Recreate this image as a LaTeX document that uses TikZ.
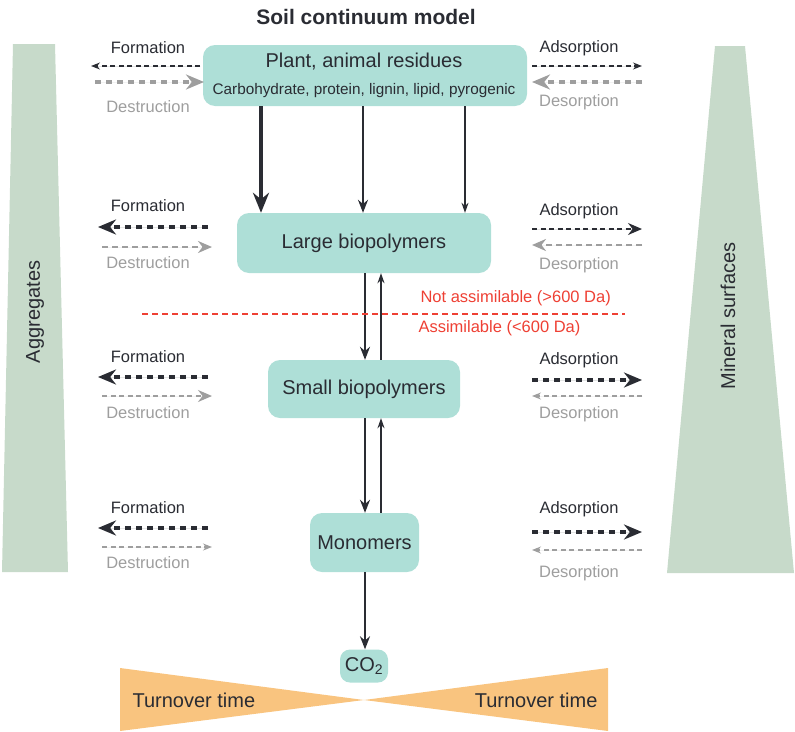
\documentclass[tikz,border=0pt]{standalone}
\usepackage{fontspec}
\setmainfont{Liberation Sans}
\usetikzlibrary{arrows.meta,positioning}

\definecolor{poolteal}{HTML}{AEDFD7}
\definecolor{sage}{HTML}{C7DACA}
\definecolor{turnover}{HTML}{F9C47F}
\definecolor{inkdark}{HTML}{2A2C33}
\definecolor{inkgrey}{HTML}{9E9E9E}
\definecolor{cutoff}{HTML}{EE4034}

\tikzset{
  pool/.style={fill=poolteal, rounded corners=12pt, inner sep=0pt,
    font=\fontsize{20}{24}\selectfont, text=inkdark},
  bigtext/.style={font=\fontsize{20}{24}\selectfont, text=inkdark},
  sidedark/.style={font=\fontsize{16.5}{20}\selectfont, text=inkdark},
  sidegrey/.style={font=\fontsize{16.5}{20}\selectfont, text=inkgrey},
  flowthin/.style={line width=1.2pt, dash pattern=on 5pt off 3.5pt,
    -{Stealth[length=9pt,width=7pt]}},
  flowmid/.style={line width=2.4pt, dash pattern=on 6pt off 4pt,
    -{Stealth[length=14pt,width=12pt]}},
  flowthick/.style={line width=4pt, dash pattern=on 6pt off 5pt,
    -{Stealth[length=18pt,width=15pt]}},
  flowthinbig/.style={line width=1.6pt, dash pattern=on 5pt off 3.5pt,
    -{Stealth[length=14pt,width=12pt]}},
  feedthick/.style={draw=inkdark, line width=4pt, -{Stealth[length=20pt,width=16pt]}},
  feedmid/.style={draw=inkdark, line width=2pt, -{Stealth[length=13pt,width=10pt]}},
  feedthin/.style={draw=inkdark, line width=1.2pt, -{Stealth[length=10pt,width=7pt]}},
}

\begin{document}
\begin{tikzpicture}[x=1pt, y=-1pt]
  \useasboundingbox (0,0) rectangle (795,731);

  % side wedges and turnover bands
  \fill[sage] (13,44) -- (55,44) -- (68,572) -- (2,572) -- cycle;
  \fill[sage] (715,46) -- (745,46) -- (794,573) -- (667,573) -- cycle;
  \fill[turnover] (120,668) -- (364,700) -- (120,731) -- cycle;
  \fill[turnover] (608,668) -- (364,700) -- (608,731) -- cycle;
  \node[bigtext, rotate=90] (aggr) at (35,312) {Aggregates};
  \node[bigtext, rotate=90] (mineral) at (728,316) {Mineral surfaces};
  \node[bigtext, anchor=west] (turnL) at (129,700) {Turnover time};
  \node[bigtext, anchor=east] (turnR) at (601,700) {Turnover time};

  \node[font=\bfseries\fontsize{21}{25}\selectfont, text=inkdark] (title) at (366,17) {Soil continuum model};

  % pools
  \node[pool, minimum width=324pt, minimum height=61pt] (plant) at (365,75.5) {};
  \node[bigtext] (plantname) at (364,62) {Plant, animal residues};
  \node[font=\fontsize{15.3}{18}\selectfont, text=inkdark] (plantlist) at (364,91)
    {Carbohydrate, protein, lignin, lipid, pyrogenic};
  \node[pool, minimum width=254pt, minimum height=60pt] (large) at (364,243) {Large biopolymers};
  \node[pool, minimum width=192pt, minimum height=58pt] (small) at (364,389) {Small biopolymers};
  \node[pool, minimum width=109pt, minimum height=59pt] (mono) at (364.5,542.5) {Monomers};
  \node[pool, rounded corners=10pt, minimum width=48pt, minimum height=33pt] (co2) at (364,666)
    {CO\textsubscript{2}};

  % vertical fluxes
  \draw[feedthick] (plant.south -| 261,0) -- (large.north -| 261,0);
  \draw[feedmid] (plant.south -| 363,0) -- (large.north -| 363,0);
  \draw[feedthin] (plant.south -| 465,0) -- (large.north -| 465,0);
  \draw[feedmid] (large.south -| 365,0) -- (small.north -| 365,0);
  \draw[feedthin] (small.north -| 381,0) -- (large.south -| 381,0);
  \draw[feedmid] (small.south -| 365,0) -- (mono.north -| 365,0);
  \draw[feedthin] (mono.north -| 381,0) -- (small.south -| 381,0);
  \draw[feedmid] (mono.south -| 365,0) -- (co2.north -| 365,0);

  % assimilation cut-off
  \coordinate (cutA) at (142,314);
  \coordinate (cutB) at (625,314);
  \draw[cutoff, line width=1.2pt, dash pattern=on 6pt off 4pt] (cutA) -- (cutB);
  \node[font=\fontsize{16.5}{20}\selectfont, text=cutoff, anchor=west] (notass) at (417,298)
    {Not assimilable (>600 Da)};
  \node[font=\fontsize{16.5}{20}\selectfont, text=cutoff, anchor=west] (ass) at (415,328)
    {Assimilable (<600 Da)};

  % aggregates side
  \foreach \n/\xi/\xo/\yt/\ya/\yb/\yd/\fs/\ds in {
      1/200/91/48/66/82/107/flowthin/flowthick,
      2/208/98/206/227/247/263/flowthick/flowmid,
      3/208/98/357/377/396/413/flowthick/flowthinbig,
      4/208/98/508/528/547/563/flowthick/flowthin}{
    \node[sidedark] (form\n) at (148,\yt) {Formation};
    \node[sidegrey] (destr\n) at (148,\yd) {Destruction};
    \coordinate (formA\n) at (\xi,\ya);
    \coordinate (formB\n) at (\xo,\ya);
    \coordinate (destrA\n) at (\xo+4,\yb);
    \coordinate (destrB\n) at (\xi+4,\yb);
    \draw[\fs, draw=inkdark, fill=inkdark] (formA\n) -- (formB\n);
    \draw[\ds, draw=inkgrey, fill=inkgrey] (destrA\n) -- (destrB\n);
  }

  % mineral side
  \foreach \n/\yt/\ya/\yb/\yd/\fs/\ds in {
      1/48/66/82/102/flowthin/flowthick,
      2/211/229/245/265/flowthinbig/flowmid,
      3/360/380/396/414/flowthick/flowthin,
      4/509/532/550/573/flowthick/flowthin}{
    \node[sidedark] (ads\n) at (579,\yt) {Adsorption};
    \node[sidegrey] (des\n) at (579,\yd) {Desorption};
    \coordinate (adsA\n) at (532,\ya);
    \coordinate (adsB\n) at (642,\ya);
    \coordinate (desA\n) at (642,\yb);
    \coordinate (desB\n) at (532,\yb);
    \draw[\fs, draw=inkdark, fill=inkdark] (adsA\n) -- (adsB\n);
    \draw[\ds, draw=inkgrey, fill=inkgrey] (desA\n) -- (desB\n);
  }
\end{tikzpicture}
\end{document}
